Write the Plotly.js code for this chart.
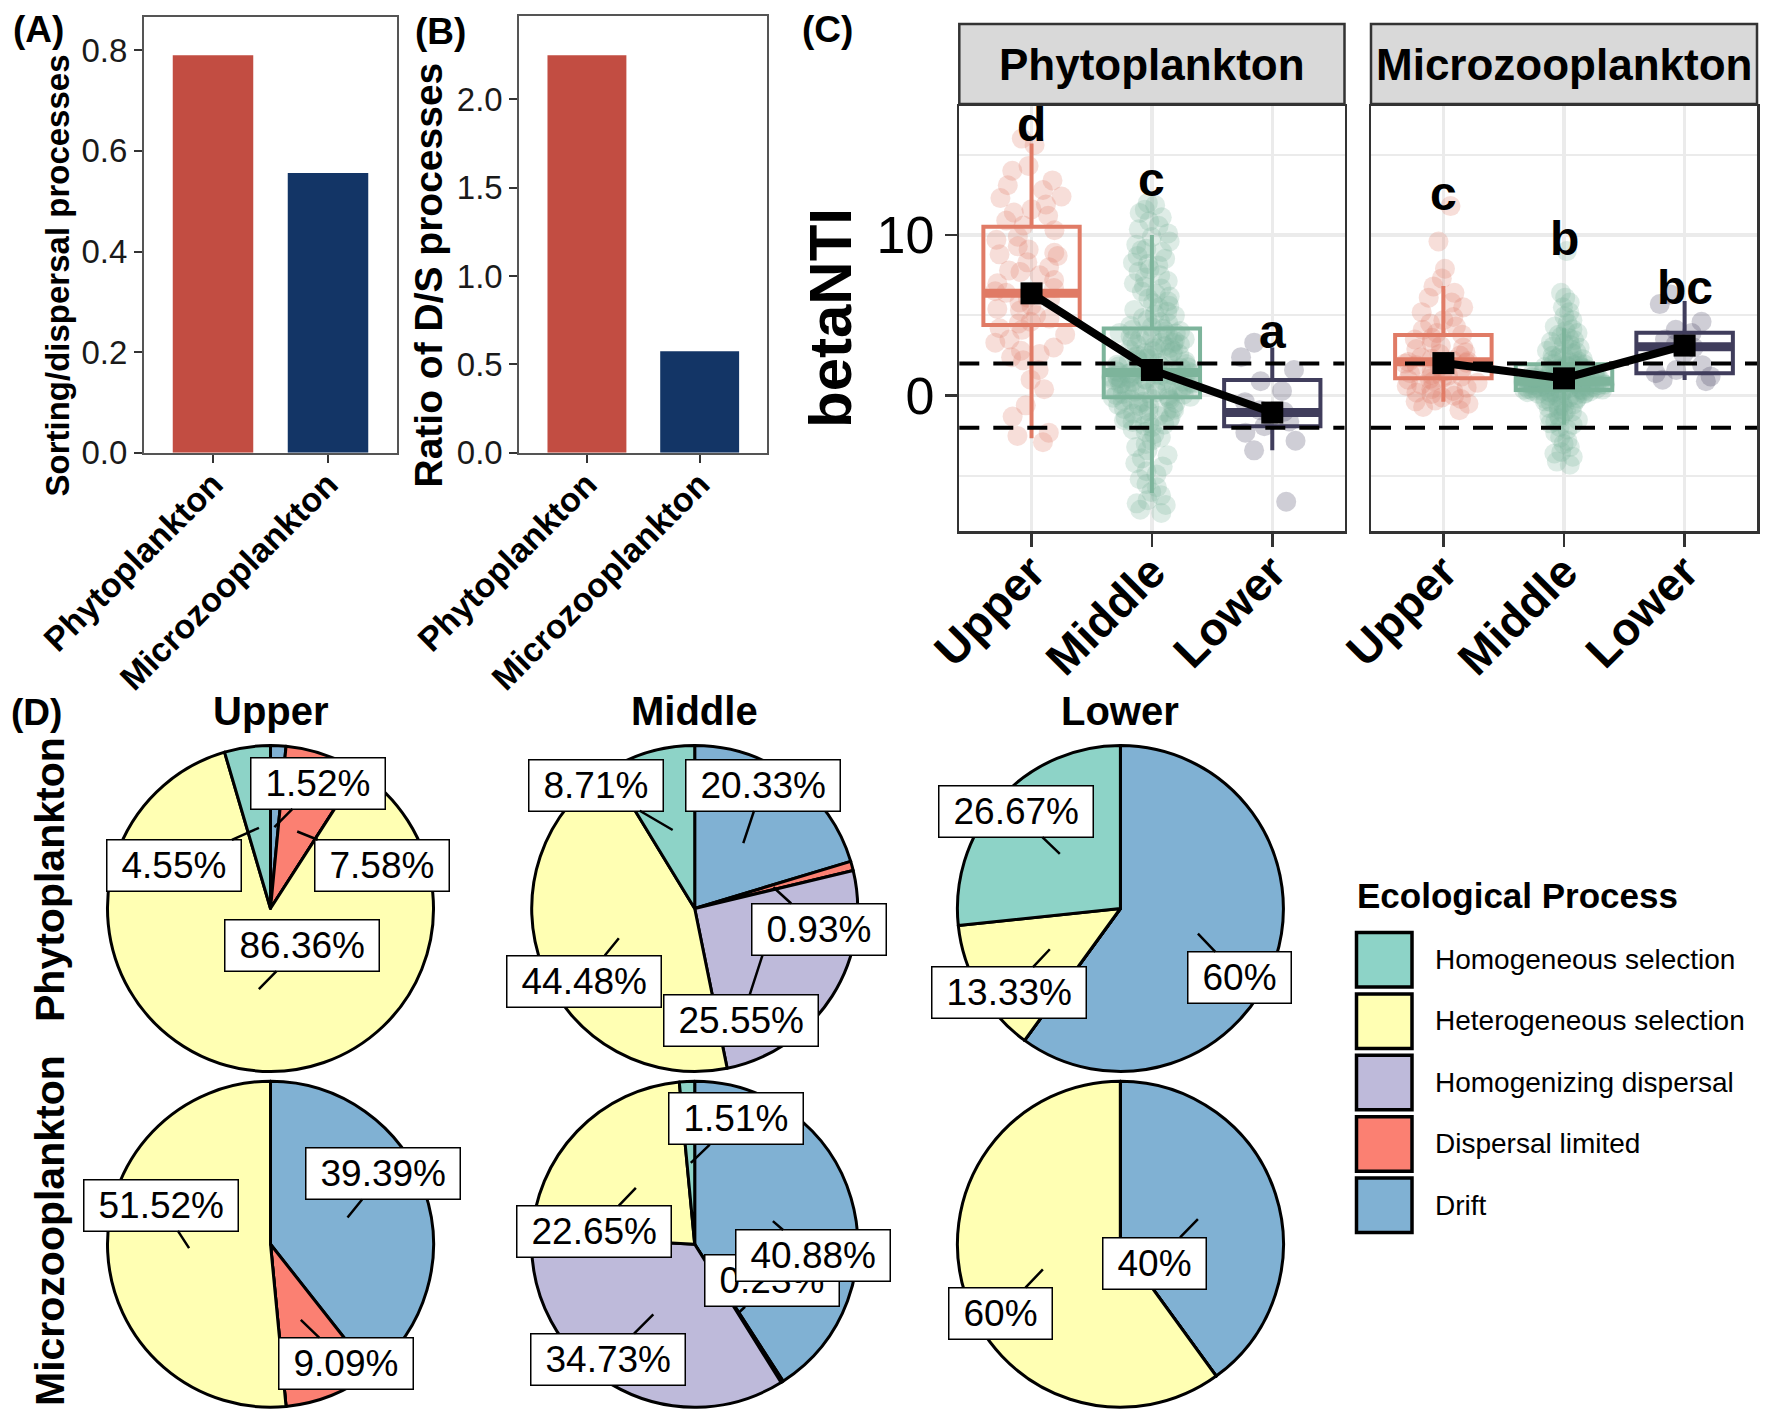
<!DOCTYPE html>
<html><head><meta charset="utf-8">
<script src="https://cdn.plot.ly/plotly-3.0.1.min.js"></script>
<style>html,body{margin:0;padding:0;background:#fff}</style>
</head><body><div id="chart" style="width:1767px;height:1419px"></div>
<script>
// ---------------- DATA ----------------
// Panels A and B
const groups = ['Phytoplankton', 'Microzooplankton'];
const sortingDispersal = [0.790, 0.556];
const ratioDS = [2.249, 0.574];

// Panel C : betaNTI by zone
const zones = ['Upper', 'Middle', 'Lower'];
const phytoQ1 = [4.40, -0.10, -1.90];
const phytoMedian = [6.37, 1.45, -1.05];
const phytoQ3 = [10.52, 4.19, 0.98];
const phytoLowWhisker = [-2.65, -6.06, -3.40];
const phytoHighWhisker = [15.70, 10.00, 3.00];
const phytoMean = [6.37, 1.60, -1.05];
const phytoLetters = ['d', 'c', 'a'];
const phytoLetterY = [16.85, 13.43, 4.00];

const microQ1 = [1.08, 0.35, 1.39];
const microMedian = [2.12, 0.90, 3.05];
const microQ3 = [3.78, 1.95, 3.92];
const microLowWhisker = [-0.37, -1.80, 0.98];
const microHighWhisker = [6.83, 4.20, 5.90];
const microMean = [2.03, 1.08, 3.12];
const microLetters = ['c', 'b', 'bc'];
const microLetterY = [12.60, 9.80, 6.75];

const phytoUpperBeta = [16.0, 15.6, 14.3, 14.0, 13.4, 13.1, 12.8, 12.4, 12.3, 11.9, 11.6, 11.4, 11.2, 10.9, 10.6, 10.3, 9.9, 9.7, 9.3, 9.1, 8.8, 8.7, 8.9, 8.3, 8.0, 7.8, 7.5, 7.7, 7.2, 7.0, 6.7, 6.5, 6.4, 6.1, 6.0, 5.8, 5.6, 5.4, 5.3, 5.0, 4.8, 4.6, 4.5, 4.2, 4.1, 3.8, 3.5, 3.3, 3.0, 2.8, 2.6, 2.4, 2.2, 1.6, 1.0, 0.4, -0.6, -1.3, -2.3, -2.5, -2.9];
const phytoMiddleBeta = [-7.3, -7.1, -6.8, -6.7, -6.5, -6.2, -6.0, -5.7, -5.5, -5.2, -4.9, -4.7, -4.4, -4.2, -3.9, -3.7, -3.4, -3.2, -3.0, -2.8, -2.6, -2.4, -2.25, -2.1,
  -1.96, -1.85, -1.79, -1.70, -1.63, -1.52, -1.49, -1.38, -1.33, -1.27, -1.15, -1.1, -1.02, -0.97, -0.88, -0.83, -0.77, -0.68, -0.64, -0.58, -0.49, -0.45, -0.37, -0.34, -0.26, -0.24, -0.19, -0.16, -0.12,
  -0.07, -0.02, 0.04, 0.08, 0.11, 0.17, 0.22, 0.26, 0.29, 0.34, 0.41, 0.43, 0.46, 0.51, 0.56, 0.6, 0.62, 0.67, 0.72, 0.74, 0.77, 0.83, 0.85, 0.88, 0.93, 0.96, 0.98, 1.03, 1.07, 1.09, 1.11, 1.16, 1.18, 1.2, 1.25, 1.27, 1.3, 1.31, 1.36, 1.37, 1.4, 1.43, 1.44, 1.46, 1.48, 1.49,
  1.52, 1.58, 1.61, 1.65, 1.73, 1.77, 1.81, 1.88, 1.92, 1.97,
  2.03, 2.08, 2.15, 2.2, 2.25, 2.32, 2.37, 2.42, 2.49, 2.54, 2.59, 2.66, 2.7, 2.78, 2.82, 2.87, 2.95, 2.99, 3.06, 3.1, 3.18, 3.21, 3.29, 3.33, 3.41, 3.45, 3.52, 3.56, 3.64, 3.68, 3.76, 3.8, 3.87, 3.91, 3.99, 4.03, 4.11, 4.16,
  4.27, 4.36, 4.5, 4.58, 4.73, 4.83, 4.98, 5.07, 5.23, 5.34, 5.49, 5.6, 5.77, 5.88, 6.05, 6.17, 6.35, 6.48, 6.67, 6.8, 7.0, 7.14, 7.35, 7.5, 7.72, 7.88, 8.11, 8.28, 8.52, 8.7, 8.95, 9.14, 9.4, 9.6, 9.87, 10.1, 10.36, 10.58, 10.86, 11.1, 11.37, 11.58, 11.86, 12.0, 9.05, 8.2];
const phytoLowerBeta = [3.3, 2.4, 1.6, 0.9, 0.3, -0.4, -0.9, -1.0, -1.3, -1.6, -1.9, -2.3, -2.8, -3.4, -6.6];
const microUpperBeta = [11.8, 9.6, 7.9, 7.3, 6.8, 6.4, 6.1, 5.8, 5.5, 5.2, 4.9, 4.7, 4.5, 4.3, 4.1, 3.9, 3.8, 3.6, 3.5, 3.3, 3.1, 3.0, 2.9, 2.7, 2.6, 2.5, 2.4, 2.3, 2.2, 2.15, 2.1, 2.05, 2.0, 1.9, 1.8, 1.7, 1.6, 1.5, 1.4, 1.3, 1.25, 1.2, 1.1, 1.05, 1.0, 0.9, 0.8, 0.7, 0.6, 0.5, 0.4, 0.3, 0.2, 0.1, 0.0, -0.1, -0.2, -0.3, -0.35, -0.5, -0.7, -0.9];
const microMiddleBeta = [-4.3, -4.1, -3.8, -3.6, -3.5, -3.2, -3.0, -2.8, -2.6, -2.3, -2.1,
  -1.95, -1.8, -1.72, -1.6, -1.5, -1.41, -1.3, -1.22, -1.1, -1.0, -0.93, -0.85, -0.76, -0.7, -0.62, -0.55, -0.48, -0.4, -0.35, -0.28, -0.22, -0.16, -0.1, -0.05, 0.0, 0.04, 0.07, 0.1, 0.12, 0.15, 0.17, 0.2, 0.22, 0.24, 0.26, 0.27, 0.29, 0.3, 0.31, 0.33,
  0.35, 0.37, 0.38, 0.4, 0.42, 0.43, 0.45, 0.46, 0.48, 0.5, 0.51, 0.53, 0.54, 0.56, 0.57, 0.59, 0.6, 0.62, 0.63, 0.65, 0.66, 0.68, 0.69, 0.71, 0.72, 0.74, 0.75, 0.77, 0.78, 0.8, 0.81, 0.83, 0.84, 0.86, 0.87, 0.88,
  0.9, 0.92, 0.94, 0.96, 0.98, 1.0, 1.02, 1.04, 1.06, 1.08, 1.1, 1.12, 1.14, 1.16, 1.19, 1.21, 1.23, 1.25, 1.28, 1.3, 1.32, 1.35, 1.37, 1.4, 1.42, 1.45, 1.47, 1.5, 1.53, 1.55, 1.58, 1.61, 1.64, 1.67, 1.7, 1.73, 1.76, 1.79, 1.82, 1.85, 1.88, 1.91, 1.94, 1.97,
  2.02, 2.08, 2.14, 2.2, 2.27, 2.34, 2.41, 2.48, 2.56, 2.64, 2.72, 2.8, 2.89, 2.98, 3.07, 3.16, 3.26, 3.36, 3.46, 3.57, 3.68, 3.79, 3.9, 4.02, 4.14, 4.3, 4.5, 4.7, 4.95, 5.2, 5.5, 5.8, 6.1, 6.4, 9.0];
const microLowerBeta = [6.3, 5.7, 4.6, 4.1, 3.9, 3.5, 3.2, 3.0, 2.6, 1.9, 1.6, 1.4, 1.2, 1.0, 0.9];

// Panel D : ecological process shares (%)
const processes = ['Homogeneous selection', 'Heterogeneous selection', 'Homogenizing dispersal', 'Dispersal limited', 'Drift'];
const pieZones = ['Upper', 'Middle', 'Lower'];
const pieRows = ['Phytoplankton', 'Microzooplankton'];
const phytoUpperPct = [4.55, 86.36, 0, 7.58, 1.52];
const phytoMiddlePct = [8.71, 44.48, 25.55, 0.93, 20.33];
const phytoLowerPct = [26.67, 13.33, 0, 0, 60];
const microUpperPct = [0, 51.52, 0, 9.09, 39.39];
const microMiddlePct = [1.51, 22.65, 34.73, 0.23, 40.88];
const microLowerPct = [0, 60, 0, 0, 40];

// ---------------- STYLE / LAYOUT ----------------
const W = 1767, H = 1419;
const fx = p => p / W;
const fy = p => 1 - p / H;
const FONT = 'Liberation Sans, Arial, Helvetica, sans-serif';
const groupColors = ['#C24D42', '#133566'];
const zoneColors = ['#E07B66', '#7DB49B', '#403D5C'];
const processColors = ['#8DD3C7', '#FFFFB3', '#BEBADA', '#FB8072', '#80B1D3'];
const BOXW = 0.8;

// pie geometry (px)
const pieCX = [270.5, 694.7, 1120.4];
const pieCY = [908.5, 1244.2];
const PIE_R = 163;
// label offsets (px) from slice anchor, legend order
const labelOffsets = [
  [ [[-85.4, 37.7], [43, -43.7], null, [84.4, 34], [43.6, -44]],
    [[-77, -45], [-35, 43], [-22, 68], [46, 42], [19.3, -58]],
    [[-44, -42.7], [-41, 43.7], null, null, [42, 44]] ],
  [ [null, [-28, -43], null, [45, 43.5], [35.5, -43.7]],
    [[45.6, -44], [-41.6, 43.6], [-45, 45], [34, -32], [40, 34.6]],
    [null, [-42, 44], null, null, [-43, 44]] ]
];
const piePct = [[phytoUpperPct, phytoMiddlePct, phytoLowerPct], [microUpperPct, microMiddlePct, microLowerPct]];

const traces = [];
const annotations = [];
const shapes = [];

// ---- Panels A & B
traces.push({type: 'bar', x: groups, y: sortingDispersal, width: 0.7, marker: {color: groupColors}, xaxis: 'x', yaxis: 'y', hoverinfo: 'x+y'});
traces.push({type: 'bar', x: groups, y: ratioDS, width: 0.7, marker: {color: groupColors}, xaxis: 'x2', yaxis: 'y2', hoverinfo: 'x+y'});

// ---- Panel C
function addBetaPanel(xa, ya, pts, q1, med, q3, lo, hi, mean, letters, letterY) {
  zones.forEach((z, i) => {
    const pos = i + 1;
    traces.push({type: 'box', name: z, x0: pos, y: pts[i], xaxis: xa, yaxis: ya, width: BOXW,
      boxpoints: 'all', jitter: 0.85, pointpos: 0, whiskerwidth: 0,
      line: {width: 0, color: 'rgba(0,0,0,0)'}, fillcolor: 'rgba(0,0,0,0)',
      marker: {color: zoneColors[i], opacity: 0.25, size: 20, line: {width: 0}}, hoverinfo: 'y'});
    traces.push({type: 'box', name: z, x: [pos], q1: [q1[i]], median: [med[i]], q3: [q3[i]],
      lowerfence: [lo[i]], upperfence: [hi[i]], xaxis: xa, yaxis: ya, width: BOXW, whiskerwidth: 0,
      boxpoints: false, line: {color: zoneColors[i], width: 4}, fillcolor: 'rgba(0,0,0,0)'});
    traces.push({type: 'scatter', mode: 'lines', x: [pos - BOXW / 2, pos + BOXW / 2], y: [med[i], med[i]],
      xaxis: xa, yaxis: ya, line: {color: zoneColors[i], width: 9}, hoverinfo: 'skip'});
    annotations.push({xref: xa, yref: ya, x: pos, y: letterY[i], text: letters[i], showarrow: false,
      font: {family: FONT, size: 48, weight: 'bold', color: '#000'}, xanchor: 'center', yanchor: 'middle'});
  });
  traces.push({type: 'scatter', mode: 'lines+markers', x: [1, 2, 3], y: mean, xaxis: xa, yaxis: ya,
    line: {color: '#000', width: 8}, marker: {symbol: 'square', size: 22, color: '#000'}});
  [2, -2].forEach(v => shapes.push({type: 'line', xref: xa + ' domain', x0: 0, x1: 1, yref: ya, y0: v, y1: v,
    line: {color: '#000', width: 4, dash: '20px,14px'}, layer: 'above'}));
}
addBetaPanel('x3', 'y3', [phytoUpperBeta, phytoMiddleBeta, phytoLowerBeta], phytoQ1, phytoMedian, phytoQ3, phytoLowWhisker, phytoHighWhisker, phytoMean, phytoLetters, phytoLetterY);
addBetaPanel('x4', 'y4', [microUpperBeta, microMiddleBeta, microLowerBeta], microQ1, microMedian, microQ3, microLowWhisker, microHighWhisker, microMean, microLetters, microLetterY);

// strips
const stripPanels = [[959.3, 1344.5, 'Phytoplankton'], [1371, 1757, 'Microzooplankton']];
stripPanels.forEach(s => {
  shapes.push({type: 'rect', xref: 'paper', yref: 'paper', x0: fx(s[0]), x1: fx(s[1]), y0: fy(104), y1: fy(24),
    fillcolor: '#D9D9D9', line: {color: '#333333', width: 2.5}, layer: 'above'});
  annotations.push({xref: 'paper', yref: 'paper', x: fx((s[0] + s[1]) / 2), y: fy(64), text: s[2], showarrow: false,
    font: {family: FONT, size: 44, weight: 'bold', color: '#000'}, xanchor: 'center', yanchor: 'middle'});
});

// ---- Panel D : pies
const canvas = document.createElement('canvas');
const ctx = canvas.getContext('2d');
ctx.font = '37px "Liberation Sans"';
pieRows.forEach((row, r) => {
  pieZones.forEach((zone, c) => {
    const pct = piePct[r][c];
    const order = [4, 3, 2, 1, 0]; // clockwise from 12 o'clock
    const cx = pieCX[c], cy = pieCY[r];
    traces.push({type: 'pie', values: order.map(k => pct[k]), labels: order.map(k => processes[k]),
      marker: {colors: order.map(k => processColors[k]), line: {color: '#000', width: 3}},
      sort: false, direction: 'clockwise', rotation: 0, textinfo: 'none', hoverinfo: 'label+percent',
      domain: {x: [fx(cx - PIE_R), fx(cx + PIE_R)], y: [fy(cy + PIE_R), fy(cy - PIE_R)]}, showlegend: false});
    let cum = 0;
    const mids = {};
    order.forEach(k => { mids[k] = cum + pct[k] / 2; cum += pct[k]; });
    processes.forEach((p, k) => {
      if (!pct[k]) return;
      const off = labelOffsets[r][c][k];
      const ang = mids[k] / 100 * 2 * Math.PI;
      const axp = cx + 0.5 * PIE_R * Math.sin(ang);
      const ayp = cy - 0.5 * PIE_R * Math.cos(ang);
      const txt = pct[k] + '%';
      const tw = ctx.measureText(txt).width;
      annotations.push({xref: 'paper', yref: 'paper', x: fx(axp), y: fy(ayp), ax: off[0], ay: off[1], text: txt,
        showarrow: true, arrowhead: 0, arrowwidth: 2.5, arrowcolor: '#000', standoff: 0,
        bgcolor: '#fff', bordercolor: '#000', borderwidth: 1.5, borderpad: 2, width: tw + 24, height: 46,
        font: {family: FONT, size: 37, color: '#000'}});
    });
  });
});
pieZones.forEach((z, c) => annotations.push({xref: 'paper', yref: 'paper', x: fx(pieCX[c]), y: fy(711), text: z, showarrow: false,
  font: {family: FONT, size: 40, weight: 'bold', color: '#000'}, xanchor: 'center', yanchor: 'middle'}));
[[880, 'Phytoplankton'], [1231, 'Microzooplankton']].forEach(a => annotations.push({xref: 'paper', yref: 'paper', x: fx(50), y: fy(a[0]),
  text: a[1], textangle: -90, showarrow: false, font: {family: FONT, size: 41, weight: 'bold', color: '#000'}, xanchor: 'center', yanchor: 'middle'}));

// legend (manual)
annotations.push({xref: 'paper', yref: 'paper', x: fx(1355), y: fy(895), text: 'Ecological Process', showarrow: false,
  font: {family: FONT, size: 35, weight: 'bold', color: '#000'}, xanchor: 'left', yanchor: 'middle'});
processes.forEach((p, k) => {
  const top = 931 + k * 61.4;
  shapes.push({type: 'rect', xref: 'paper', yref: 'paper', x0: fx(1356.5), x1: fx(1412), y0: fy(top + 56), y1: fy(top + 1.5),
    fillcolor: processColors[k], line: {color: '#000', width: 3.5}});
  annotations.push({xref: 'paper', yref: 'paper', x: fx(1433), y: fy(top + 28.5), text: p, showarrow: false,
    font: {family: FONT, size: 28, color: '#000'}, xanchor: 'left', yanchor: 'middle'});
});

// panel tags and axis titles
[['(A)', 38.5, 29.5], ['(B)', 440, 31.5], ['(C)', 827, 29.5], ['(D)', 36, 713]].forEach(t => annotations.push({xref: 'paper', yref: 'paper',
  x: fx(t[1]), y: fy(t[2]), text: t[0], showarrow: false, font: {family: FONT, size: 37, weight: 'bold', color: '#000'}, xanchor: 'center', yanchor: 'middle'}));
[['Sorting/dispersal processes', 57, 275.5, 33], ['Ratio of D/S processes', 428, 275.5, 39], ['betaNTI', 830, 318, 60]].forEach(t => annotations.push({
  xref: 'paper', yref: 'paper', x: fx(t[1]), y: fy(t[2]), text: t[0], textangle: -90, showarrow: false,
  font: {family: FONT, size: t[3], weight: 'bold', color: '#000'}, xanchor: 'center', yanchor: 'middle'}));

const barX = d => ({domain: d, type: 'category', range: [-0.6, 1.6], showline: true, mirror: true, linecolor: '#555', linewidth: 2,
  ticks: 'outside', ticklen: 8, tickwidth: 2, tickcolor: '#333', tickangle: -45, showgrid: false, zeroline: false,
  ticklabelstandoff: -12, tickfont: {family: FONT, size: 34, weight: 'bold', color: '#000'}});
const barY = (d, r, tv) => ({domain: d, range: r, tickvals: tv, tickformat: '.1f', showline: true, mirror: true, linecolor: '#555', linewidth: 2,
  ticks: 'outside', ticklen: 8, tickwidth: 2, tickcolor: '#333', showgrid: false, zeroline: false,
  tickfont: {family: FONT, size: 33, color: '#1a1a1a'}});
const betaX = d => ({domain: d, range: [0.4, 3.6], tickvals: [1, 2, 3], ticktext: zones, showline: true, mirror: true,
  linecolor: '#333', linewidth: 2.5, ticks: 'outside', ticklen: 13, tickwidth: 2.5, tickcolor: '#333', tickangle: -45,
  ticklabelstandoff: -20,
  showgrid: true, gridcolor: '#EBEBEB', gridwidth: 3.5, zeroline: false, tickfont: {family: FONT, size: 46, weight: 'bold', color: '#000'}});
const betaYBase = {range: [-8.42, 18.03], tickvals: [0, 10], ticktext: ['0', '10'], showline: true, mirror: true,
  linecolor: '#333', linewidth: 2.5, showgrid: true, gridcolor: '#EBEBEB', gridwidth: 3.5, zeroline: false,
  minor: {tickvals: [-5, 5, 15], showgrid: true, gridcolor: '#EBEBEB', gridwidth: 2}};

const layout = {
  width: W, height: H, margin: {l: 0, r: 0, t: 0, b: 0}, paper_bgcolor: '#fff', plot_bgcolor: 'rgba(0,0,0,0)',
  showlegend: false, boxmode: 'overlay', font: {family: FONT},
  xaxis: Object.assign(barX([fx(144), fx(397)]), {anchor: 'y'}),
  yaxis: Object.assign(barY([fy(452.7), fy(16.6)], [0, 0.867], [0, 0.2, 0.4, 0.6, 0.8]), {anchor: 'x'}),
  xaxis2: Object.assign(barX([fx(519.3), fx(767.3)]), {anchor: 'y2'}),
  yaxis2: Object.assign(barY([fy(452.7), fy(15.7)], [0, 2.473], [0, 0.5, 1, 1.5, 2]), {anchor: 'x2'}),
  xaxis3: Object.assign(betaX([fx(959.3), fx(1344.5)]), {anchor: 'y3'}),
  yaxis3: Object.assign({}, betaYBase, {domain: [fy(531), fy(106)], anchor: 'x3', ticks: 'outside', ticklen: 12, tickwidth: 2.5, tickcolor: '#333',
    tickfont: {family: FONT, size: 52, color: '#000'}}),
  xaxis4: Object.assign(betaX([fx(1371), fx(1757)]), {anchor: 'y4'}),
  yaxis4: Object.assign({}, betaYBase, {domain: [fy(531), fy(106)], anchor: 'x4', matches: 'y3', showticklabels: false, ticks: ''}),
  annotations: annotations, shapes: shapes
};
Plotly.newPlot('chart', traces, layout, {staticPlot: true});
</script></body></html>
